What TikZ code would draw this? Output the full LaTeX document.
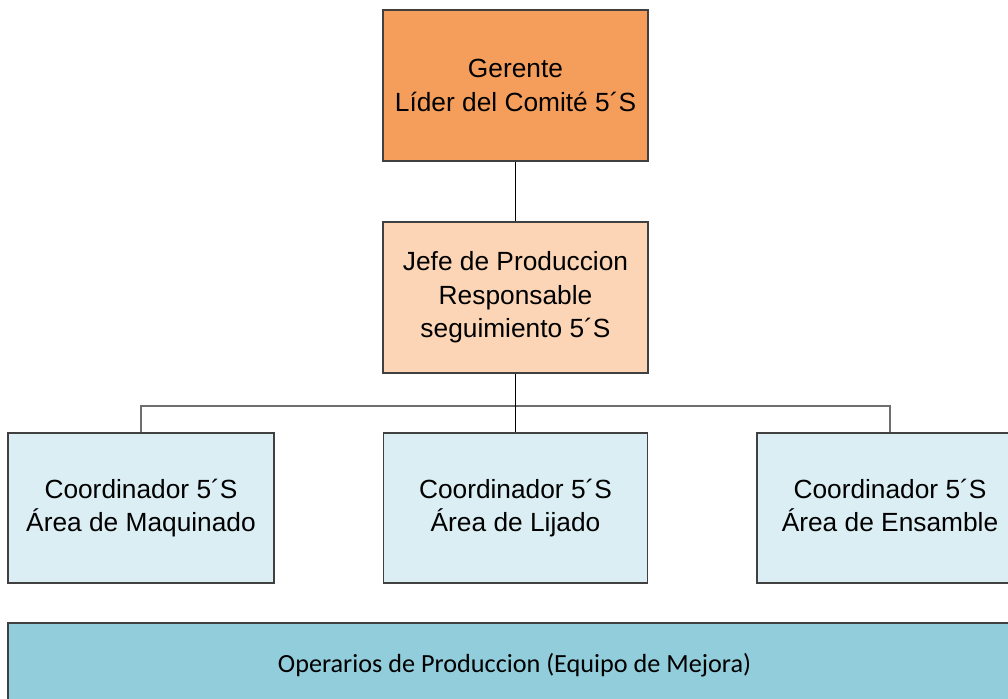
\documentclass[tikz,border=0pt]{standalone}
\usepackage{fontspec}
\setmainfont{Liberation Sans}
\newfontfamily\calib{Carlito}
\definecolor{gerfill}{RGB}{245,158,91}
\definecolor{jefefill}{RGB}{251,213,181}
\definecolor{coordfill}{RGB}{218,238,243}
\definecolor{operfill}{RGB}{146,205,220}
\definecolor{boxline}{RGB}{64,64,64}
\definecolor{busline}{RGB}{110,110,110}
\tikzset{
  orgbox/.style={draw=boxline, line width=1.1pt, inner sep=0pt, align=center,
    font=\fontsize{26.3}{33.5}\selectfont, minimum width=265pt, minimum height=151pt},
  conn/.style={draw=black, line width=1.1pt},
  busconn/.style={draw=busline, line width=1.1pt},
}
\begin{document}
\begin{tikzpicture}[x=1pt,y=-1pt]
\useasboundingbox (0,0) rectangle (1008,698);
\clip (0,0) rectangle (1008,698);
\fill[white] (0,0) rectangle (1008,698);
\node[orgbox, fill=gerfill] (ger) at (515.5,85.5) {Gerente\\Líder del Comité 5´S};
\node[orgbox, fill=jefefill] (jefe) at (515.5,297.5) {Jefe de Produccion\\Responsable\\seguimiento 5´S};
\node[orgbox, fill=coordfill, minimum width=266pt, minimum height=150pt] (c1) at (141,508) {Coordinador 5´S\\Área de Maquinado};
\node[orgbox, fill=coordfill, minimum width=264pt, minimum height=150pt] (c2) at (515.5,508) {Coordinador 5´S\\Área de Lijado};
\node[orgbox, fill=coordfill, minimum width=266pt, minimum height=150pt] (c3) at (890,508) {Coordinador 5´S\\Área de Ensamble\vphantom{q}};
\node[draw=boxline, line width=1.1pt, fill=operfill, inner sep=0pt,
  minimum width=1013pt, minimum height=84pt, font=\calib\fontsize{26.2}{31}\selectfont] (oper) at (514.5,665) {Operarios de Produccion (Equipo de Mejora)};
\coordinate (bus) at (515.5,406);
\draw[busconn] (c1.north) |- (bus) -| (c3.north);
\draw[conn] (ger.south) -- (jefe.north);
\draw[conn] (jefe.south) -- (c2.north);
\end{tikzpicture}
\end{document}
